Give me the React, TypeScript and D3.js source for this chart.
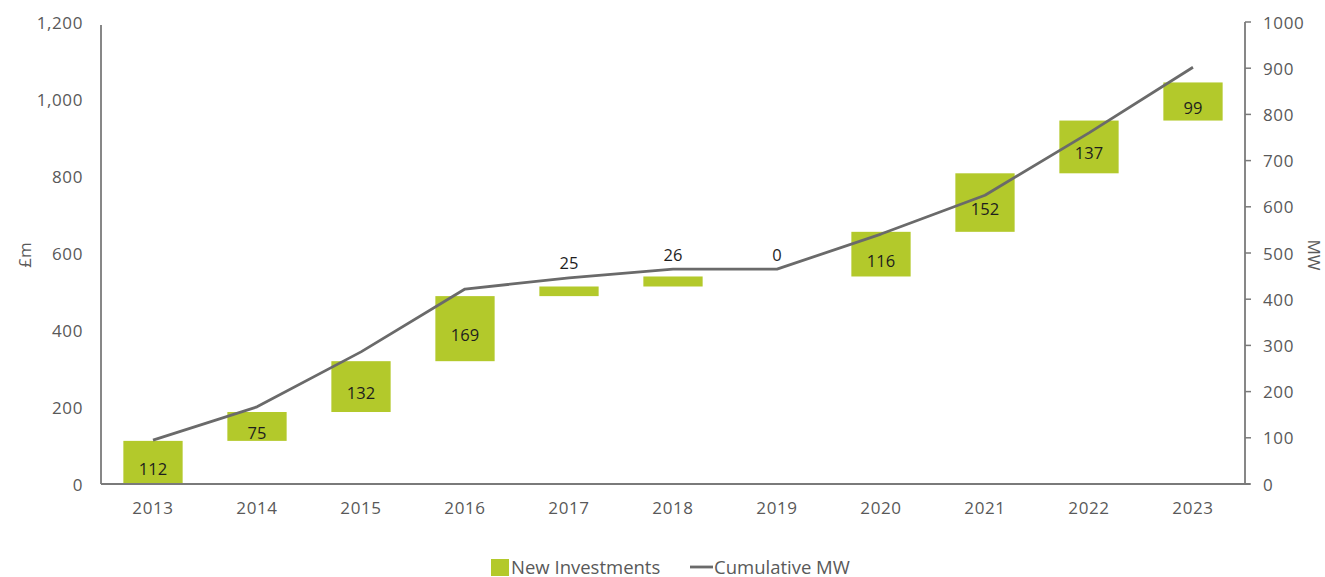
import React, { useEffect } from "react";
import * as d3 from "d3";

const years = ["2013", "2014", "2015", "2016", "2017", "2018", "2019", "2020", "2021", "2022", "2023"];
const newInvestments = [112, 75, 132, 169, 25, 26, 0, 116, 152, 137, 99];
const cumulativeMW = [95, 167, 286, 422, 446, 465, 465, 541, 625, 760, 902];
const leftTicks = [0, 200, 400, 600, 800, 1000, 1200];
const rightTicks = [0, 100, 200, 300, 400, 500, 600, 700, 800, 900, 1000];

const W = 1325;
const H = 577;
const margin = { left: 101, right: 80, top: 22, bottom: 93 };
const FONT = "'Open Sans', 'Noto Sans', sans-serif";
const GREY = "#595959";
const AXIS = "#7a7a7a";
const GREEN = "#b3c92b";
const LINE = "#6a6a6a";
const TICK_FS = 17;
const TICK_LS = 0.6;

export default function App() {
  useEffect(() => {
    document.body.style.margin = "0";
  }, []);

  const x = d3
    .scaleBand<string>()
    .domain(years)
    .range([margin.left, W - margin.right])
    .paddingInner(0.43)
    .paddingOuter(0.215);
  const yL = d3.scaleLinear().domain([0, 1200]).range([H - margin.bottom, margin.top]);
  const yR = d3.scaleLinear().domain([0, 1000]).range([H - margin.bottom, margin.top]);

  const bases: number[] = [];
  let acc = 0;
  newInvestments.forEach((v) => {
    bases.push(acc);
    acc += v;
  });

  const cx = (y: string) => (x(y) as number) + x.bandwidth() / 2;
  const lineGen = d3
    .line<number>()
    .x((_, i) => cx(years[i]))
    .y((d) => yR(d));

  const x0 = margin.left;
  const x1 = W - margin.right;
  const yBottom = H - margin.bottom;

  return (
    <svg width={W} height={H} style={{ display: "block", background: "#fff" }} fontFamily={FONT}>
      {newInvestments.map((v, i) => {
        if (v === 0) return null;
        const top = yL(bases[i] + v);
        const bot = yL(bases[i]);
        return (
          <rect key={years[i]} x={x(years[i])} y={top} width={x.bandwidth()} height={bot - top} fill={GREEN} />
        );
      })}
      <path d={lineGen(cumulativeMW) || ""} fill="none" stroke={LINE} strokeWidth={2.8} strokeLinejoin="round" />
      {newInvestments.map((v, i) => {
        const small = v < 50;
        const yy = small ? yR(cumulativeMW[i]) - 15 : (yL(bases[i]) + yL(bases[i] + v)) / 2 + 6;
        return (
          <text
            key={"l" + years[i]}
            x={cx(years[i])}
            y={yy}
            textAnchor="middle"
            dominantBaseline="central"
            fontSize={16.5}
            fill="#1e1e1e"
          >
            {v}
          </text>
        );
      })}
      <line x1={x0} x2={x0} y1={yL(1200) + 3} y2={yBottom} stroke={AXIS} strokeWidth={1.8} />
      <line x1={x1} x2={x1} y1={yR(1000)} y2={yBottom} stroke={AXIS} strokeWidth={1.8} />
      <line x1={x0} x2={x1 + 5} y1={yBottom} y2={yBottom} stroke={AXIS} strokeWidth={1.8} />
      {leftTicks.map((t) => (
        <text
          key={"lt" + t}
          x={83}
          y={yL(t)}
          textAnchor="end"
          dominantBaseline="central"
          fontSize={TICK_FS}
          letterSpacing={TICK_LS}
          fill={GREY}
        >
          {d3.format(",")(t)}
        </text>
      ))}
      {rightTicks.map((t) => (
        <g key={"rt" + t}>
          <line x1={x1} x2={x1 + 6} y1={yR(t)} y2={yR(t)} stroke={AXIS} strokeWidth={1.5} />
          <text
            x={1263}
            y={yR(t)}
            textAnchor="start"
            dominantBaseline="central"
            fontSize={TICK_FS}
            letterSpacing={TICK_LS}
            fill={GREY}
          >
            {t}
          </text>
        </g>
      ))}
      {years.map((yv) => (
        <text
          key={"x" + yv}
          x={cx(yv)}
          y={507}
          textAnchor="middle"
          dominantBaseline="central"
          fontSize={TICK_FS}
          letterSpacing={TICK_LS}
          fill={GREY}
        >
          {yv}
        </text>
      ))}
      <text
        transform={`translate(24,255) rotate(-90)`}
        textAnchor="middle"
        dominantBaseline="central"
        fontSize={TICK_FS}
        fill={GREY}
      >
        £m
      </text>
      <text
        transform={`translate(1314,255) rotate(90)`}
        textAnchor="middle"
        dominantBaseline="central"
        fontSize={TICK_FS}
        fill={GREY}
      >
        MW
      </text>
      <rect x={491} y={559} width={18} height={17} fill={GREEN} />
      <text x={511} y={566} dominantBaseline="central" fontSize={18.5} fill={GREY}>
        New Investments
      </text>
      <line x1={690} x2={713} y1={567} y2={567} stroke={LINE} strokeWidth={2.8} />
      <text x={714} y={566} dominantBaseline="central" fontSize={18.5} fill={GREY}>
        Cumulative MW
      </text>
    </svg>
  );
}
